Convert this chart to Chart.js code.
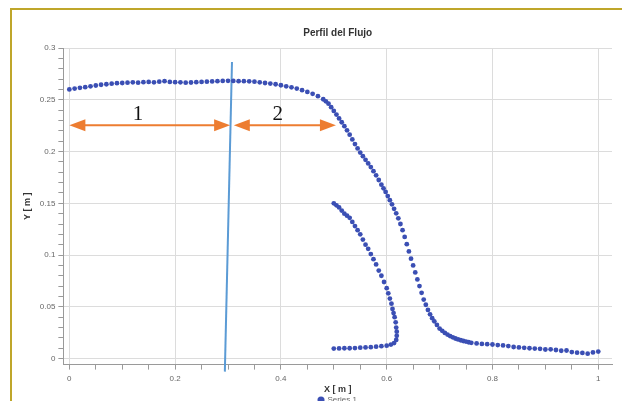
<!DOCTYPE html>
<html>
<head>
<meta charset="utf-8">
<script src="https://cdn.jsdelivr.net/npm/chart.js@4.4.1/dist/chart.umd.min.js"></script>
<style>
html, body { margin: 0; padding: 0; background: #fff; overflow: hidden; }
#marc { position: absolute; left: 10px; top: 8px; width: 700px; height: 500px;
        border-left: 2px solid #bfa62a; border-top: 2px solid #bfa62a; }
#grafic { position: absolute; left: 0; top: 0; }
</style>
</head>
<body>
<div id="marc"></div>
<canvas id="grafic" width="622" height="414"></canvas>
<script>
// Branca superior del perfil (x, y en metres)
const superiorX = [
  0.00, 0.01, 0.02, 0.03, 0.04, 0.05, 0.06, 0.07, 0.08, 0.09,
  0.10, 0.11, 0.12, 0.13, 0.14, 0.15, 0.16, 0.17, 0.18, 0.19,
  0.20, 0.21, 0.22, 0.23, 0.24, 0.25, 0.26, 0.27, 0.28, 0.29,
  0.30, 0.31, 0.32, 0.33, 0.34, 0.35, 0.36, 0.37, 0.38, 0.39,
  0.40, 0.41, 0.42, 0.43, 0.44, 0.45, 0.46, 0.47, 0.48, 0.485,
  0.490, 0.495, 0.500, 0.505, 0.510, 0.515, 0.520, 0.525, 0.530, 0.535,
  0.540, 0.545, 0.550, 0.555, 0.560, 0.565, 0.570, 0.575, 0.580, 0.585,
  0.590, 0.594, 0.598, 0.602, 0.606, 0.610, 0.614, 0.618, 0.622, 0.626,
  0.630, 0.634, 0.638, 0.642, 0.646, 0.650, 0.654, 0.658, 0.662, 0.666,
  0.670, 0.674, 0.678, 0.682, 0.686, 0.690, 0.695, 0.700, 0.705, 0.710,
  0.715, 0.720, 0.725, 0.730, 0.735, 0.740, 0.745, 0.750, 0.755, 0.760,
  0.770, 0.780, 0.790, 0.800, 0.810, 0.820, 0.830, 0.840, 0.850, 0.860,
  0.870, 0.880, 0.890, 0.900, 0.910, 0.920, 0.930, 0.940, 0.950, 0.960,
  0.970, 0.980, 0.990, 1.000
];
const superiorY = [
  0.2600, 0.2608, 0.2615, 0.2622, 0.2630, 0.2638, 0.2645, 0.2650, 0.2655, 0.2660,
  0.2662, 0.2665, 0.2668, 0.2665, 0.2670, 0.2672, 0.2668, 0.2675, 0.2680, 0.2672,
  0.2670, 0.2668, 0.2665, 0.2667, 0.2670, 0.2672, 0.2675, 0.2677, 0.2680, 0.2682,
  0.2683, 0.2682, 0.2680, 0.2680, 0.2678, 0.2675, 0.2668, 0.2662, 0.2656, 0.2650,
  0.2640, 0.2630, 0.2620, 0.2608, 0.2593, 0.2576, 0.2557, 0.2535, 0.2505, 0.2485,
  0.2462, 0.2428, 0.2392, 0.2357, 0.2320, 0.2283, 0.2245, 0.2205, 0.2163, 0.2117,
  0.2072, 0.2030, 0.1990, 0.1955, 0.1920, 0.1885, 0.1850, 0.1810, 0.1770, 0.1725,
  0.1680, 0.1645, 0.1610, 0.1570, 0.1530, 0.1490, 0.1447, 0.1403, 0.1355, 0.1300,
  0.1240, 0.1175, 0.1105, 0.1035, 0.0965, 0.0900, 0.0832, 0.0765, 0.0700, 0.0635,
  0.0570, 0.0520, 0.0470, 0.0428, 0.0390, 0.0360, 0.0325, 0.0290, 0.0268, 0.0248,
  0.0232, 0.0218, 0.0205, 0.0194, 0.0185, 0.0177, 0.0170, 0.0164, 0.0158, 0.0152,
  0.0147, 0.0142, 0.0139, 0.0136, 0.0131, 0.0127, 0.0121, 0.0112, 0.0108, 0.0104,
  0.0100, 0.0097, 0.0094, 0.0088, 0.0090, 0.0083, 0.0076, 0.0078, 0.0063, 0.0057,
  0.0055, 0.0048, 0.0060, 0.0068
];

// Branca inferior (bucle que torna cap a x = 0.5)
const inferiorX = [
  0.500, 0.505, 0.510, 0.515, 0.520, 0.525, 0.530, 0.535, 0.540, 0.545,
  0.550, 0.555, 0.560, 0.565, 0.570, 0.575, 0.580, 0.585, 0.590, 0.595,
  0.600, 0.603, 0.606, 0.609, 0.611, 0.613, 0.615, 0.617, 0.618, 0.619,
  0.619, 0.618, 0.614, 0.608, 0.600, 0.590, 0.580, 0.570, 0.560, 0.550,
  0.540, 0.530, 0.520, 0.510, 0.500
];
const inferiorY = [
  0.1500, 0.1480, 0.1460, 0.1430, 0.1400, 0.1380, 0.1360, 0.1320, 0.1280, 0.1240,
  0.1200, 0.1150, 0.1100, 0.1060, 0.1010, 0.0960, 0.0910, 0.0850, 0.0800, 0.0740,
  0.0680, 0.0630, 0.0580, 0.0530, 0.0480, 0.0440, 0.0400, 0.0350, 0.0300, 0.0260,
  0.0220, 0.0180, 0.0150, 0.0135, 0.0125, 0.0120, 0.0115, 0.0110, 0.0108, 0.0105,
  0.0102, 0.0100, 0.0100, 0.0098, 0.0097
];

// Línia vertical blava (separació zones 1 i 2)
const liniaX = [0.3075, 0.294];
const liniaY = [0.2865, -0.0126];

// Fletxes taronja i les seves etiquetes
const fletxaInici = [0.000, 0.311];
const fletxaFi = [0.304, 0.504];
const fletxaY = 0.2255;
const etiquetes = ['1', '2'];
const etiquetaX = [0.130, 0.394];
const etiquetaY = 0.236;

const colorPunts = '#3b4fb4';
const colorFletxa = '#ed7d31';

function aPunts(xs, ys) {
    return xs.map((v, i) => ({ x: v, y: ys[i] }));
}

function esMultiple(v, pas) {
    return Math.abs(v / pas - Math.round(v / pas)) < 1e-6;
}

function puntaFletxa(ctx, px, py, dir) {
    // dir = 1 apunta a la dreta, -1 a l'esquerra
    ctx.beginPath();
    ctx.moveTo(px, py);
    ctx.lineTo(px - dir * 16, py - 6);
    ctx.lineTo(px - dir * 16, py + 6);
    ctx.closePath();
    ctx.fill();
}

const fletxes = {
    id: 'fletxes',
    afterDatasetsDraw(chart) {
        const { ctx, scales: { x, y } } = chart;
        const py = y.getPixelForValue(fletxaY);
        ctx.save();
        ctx.strokeStyle = colorFletxa;
        ctx.fillStyle = colorFletxa;
        ctx.lineWidth = 2;
        fletxaInici.forEach((x0, i) => {
            const a = x.getPixelForValue(x0);
            const b = x.getPixelForValue(fletxaFi[i]);
            ctx.beginPath();
            ctx.moveTo(a + 10, py);
            ctx.lineTo(b - 10, py);
            ctx.stroke();
            puntaFletxa(ctx, a, py, -1);
            puntaFletxa(ctx, b, py, 1);
        });
        ctx.fillStyle = '#111';
        ctx.font = '21px "Liberation Serif"';
        ctx.textAlign = 'center';
        ctx.textBaseline = 'middle';
        etiquetes.forEach((t, i) => {
            ctx.fillText(t, x.getPixelForValue(etiquetaX[i]), y.getPixelForValue(etiquetaY));
        });
        ctx.restore();
    }
};

const colorGraella = '#dcdcdc';
const colorEix = '#9a9a9a';
const fontEix = { family: 'Liberation Sans', size: 8 };
const fontTitolEix = { family: 'Liberation Sans', size: 9, weight: 'bold' };

new Chart(document.getElementById('grafic'), {
    type: 'scatter',
    data: {
        datasets: [
            {
                label: 'Series 1',
                data: aPunts(superiorX, superiorY).concat(aPunts(inferiorX, inferiorY)),
                backgroundColor: colorPunts,
                borderColor: colorPunts,
                pointRadius: 2.4,
                pointBorderWidth: 0,
                pointStyle: 'circle'
            },
            {
                label: 'linia',
                data: aPunts(liniaX, liniaY),
                showLine: true,
                borderColor: '#5b9bd5',
                borderWidth: 2,
                pointRadius: 0,
                clip: false
            }
        ]
    },
    options: {
        responsive: false,
        animation: false,
        layout: { padding: { left: 18, right: 10, top: 0, bottom: 0 } },
        plugins: {
            title: {
                display: true,
                text: 'Perfil del Flujo',
                fullSize: false,
                color: '#333',
                font: { family: 'Liberation Sans', size: 10, weight: 'bold' },
                padding: { top: 27, bottom: 9 }
            },
            legend: {
                position: 'bottom',
                fullSize: false,
                labels: {
                    filter: item => item.datasetIndex === 0,
                    usePointStyle: true,
                    boxWidth: 5,
                    boxHeight: 5,
                    padding: 1,
                    color: '#666',
                    font: { family: 'Liberation Sans', size: 8 }
                }
            },
            tooltip: { enabled: false }
        },
        scales: {
            x: {
                min: -0.0113,
                max: 1.026,
                afterBuildTicks: s => { s.ticks = s.ticks.filter(t => t.value > -1e-9 && t.value < 1 + 1e-9); },
                ticks: {
                    stepSize: 0.05,
                    includeBounds: false,
                    autoSkip: false,
                    maxRotation: 0,
                    padding: 4,
                    color: '#666',
                    font: fontEix,
                    callback: v => esMultiple(v, 0.2) ? String(+v.toFixed(2)) : ''
                },
                grid: {
                    color: c => (c.tick && esMultiple(c.tick.value, 0.2)) ? colorGraella : 'rgba(0,0,0,0)',
                    tickColor: colorEix,
                    tickLength: 5
                },
                border: { display: true, color: colorEix },
                title: {
                    display: true,
                    text: 'X [ m ]',
                    color: '#333',
                    font: fontTitolEix,
                    padding: { top: -3, bottom: 0 }
                }
            },
            y: {
                min: -0.0058,
                max: 0.3,
                afterBuildTicks: s => { s.ticks = s.ticks.filter(t => t.value > -1e-9); },
                ticks: {
                    stepSize: 0.01,
                    includeBounds: false,
                    autoSkip: false,
                    padding: 3,
                    color: '#666',
                    font: fontEix,
                    callback: v => esMultiple(v, 0.05) ? String(+v.toFixed(2)) : ''
                },
                grid: {
                    color: c => (c.tick && esMultiple(c.tick.value, 0.05)) ? colorGraella : 'rgba(0,0,0,0)',
                    tickColor: colorEix,
                    tickLength: 5
                },
                border: { display: true, color: colorEix },
                title: {
                    display: true,
                    text: 'Y [ m ]',
                    color: '#333',
                    font: fontTitolEix,
                    padding: { top: 4, bottom: 4 }
                }
            }
        }
    },
    plugins: [fletxes]
});
</script>
</body>
</html>
